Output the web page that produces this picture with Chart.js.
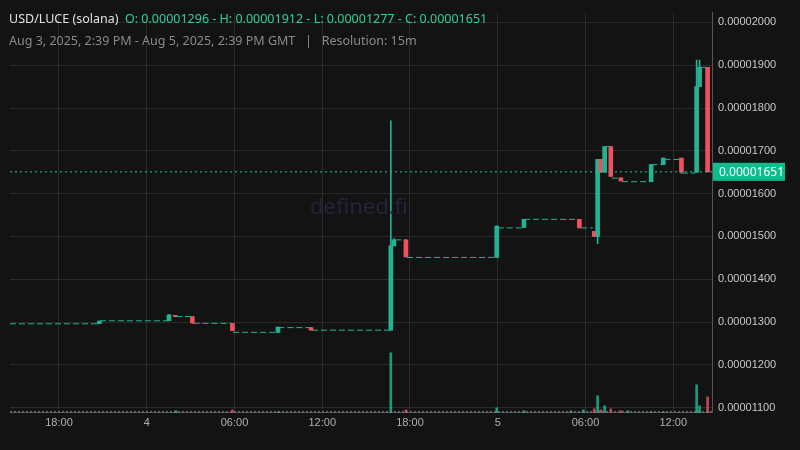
<!DOCTYPE html>
<html>
<head>
<meta charset="utf-8">
<script src="https://cdn.jsdelivr.net/npm/chart.js@4.4.1/dist/chart.umd.min.js"></script>
<style>
  body { margin: 0; background: #131313; font-family: "Noto Sans", sans-serif; }
  #wrap { position: relative; width: 800px; height: 450px; }
  #head1 { position: absolute; left: 9px; top: 10px; font-size: 12.5px; color: #e0e0e0; }
  #head1 span { color: #2fd0a0; }
  #head2 { position: absolute; left: 9px; top: 32px; font-size: 12.5px; color: #8a8a8a; }
  #mark { position: absolute; left: 310px; top: 190px; font-size: 22px; color: #24243a; }
</style>
</head>
<body>
<div id="wrap">
  <canvas id="c" width="800" height="450"></canvas>
  <div id="mark">defined.fi</div>
  <div id="head1">USD/LUCE (solana) &nbsp;<span>O: 0.00001296 - H: 0.00001912 - L: 0.00001277 - C: 0.00001651</span></div>
  <div id="head2">Aug 3, 2025, 2:39 PM - Aug 5, 2025, 2:39 PM GMT &nbsp; | &nbsp; Resolution: 15m</div>
</div>
<script>
// prices in units of 1e-8, time in hours from Aug 3 00:00
const candles = [
  [20.76,1296,1302,1296,1302],
  [25.52,1303,1318,1303,1317],
  [25.94,1316,1316,1312,1313],
  [27.12,1313,1313,1297,1298],
  [29.86,1297,1297,1280,1280],
  [32.97,1276,1288,1276,1288],
  [35.24,1287,1287,1281,1281],
  [40.69,1281,1770,1281,1478],
  [40.90,1478,1495,1478,1492],
  [41.72,1492,1492,1452,1452],
  [47.93,1451,1525,1451,1524],
  [49.79,1521,1540,1521,1540],
  [53.58,1540,1540,1520,1520],
  [54.60,1512,1512,1500,1500],
  [54.83,1500,1680,1483,1680],
  [55.05,1680,1680,1650,1650],
  [55.31,1650,1710,1650,1710],
  [55.73,1710,1710,1640,1640],
  [56.42,1637,1637,1630,1630],
  [58.49,1628,1668,1628,1668],
  [59.32,1668,1683,1668,1683],
  [60.56,1683,1683,1648,1650],
  [61.60,1650,1912,1650,1850],
  [61.80,1850,1912,1850,1895],
  [62.35,1895,1895,1651,1651]
];
const flatRuns = [
  [14.65,20.7,1296],[20.8,25.5,1303],[26.0,27.1,1313],[27.2,29.8,1297],
  [29.9,32.9,1276],[33.0,35.2,1287],[35.3,40.6,1281],[41.0,41.7,1492],
  [41.8,47.9,1451],[48.0,49.7,1520],[49.8,53.5,1540],[53.7,54.5,1520],
  [55.4,55.7,1710],[55.8,56.4,1636],[56.5,58.4,1628],[58.5,59.3,1668],
  [59.4,60.5,1680],[60.6,61.5,1648],[61.85,62.3,1895]
];
const volumes = [
  [26.0,2],[29.86,3],[33.0,1],[40.69,60],[41.72,3],[47.93,5],[49.8,2],
  [53.0,2],[53.86,3],[54.6,4],[54.83,17],[55.05,3],[55.31,7],[55.73,4],
  [56.42,2],[56.9,2],[58.49,1],[59.32,1],[61.6,28],[61.8,7],[62.35,16]
];
const lastPrice = 1651;
const tickNames = {18: '18:00', 24: '4', 30: '06:00', 36: '12:00', 42: '18:00', 48: '5', 54: '06:00', 60: '12:00'};

const UP = '#22b394', DOWN = '#f0505e';
const col = c => c[4] >= c[1] ? UP : DOWN;

const datasets = [];
flatRuns.forEach(r => datasets.push({
  type: 'line', data: [{x: r[0], y: r[2]}, {x: r[1], y: r[2]}],
  borderColor: UP, borderWidth: 1, borderDash: [6, 3], pointRadius: 0, yAxisID: 'y'
}));
datasets.push({
  type: 'bar', data: candles.map(c => ({x: c[0], y: [c[3], c[2]]})),
  backgroundColor: candles.map(col), barThickness: 1, grouped: false, yAxisID: 'y'
});
datasets.push({
  type: 'bar', data: candles.map(c => ({x: c[0], y: [c[1], c[4]]})),
  backgroundColor: candles.map(col), barThickness: 4, minBarLength: 1, grouped: false, yAxisID: 'y'
});
datasets.push({
  type: 'bar', data: volumes.map(v => ({x: v[0], y: v[1]})),
  backgroundColor: volumes.map(v => {
    const c = candles.find(k => Math.abs(k[0] - v[0]) < 0.05);
    return (c && c[4] < c[1]) ? 'rgba(240,80,94,0.8)' : 'rgba(34,200,160,0.75)';
  }),
  barThickness: 2, grouped: false, yAxisID: 'v'
});

const lastLine = {
  id: 'lastLine',
  afterDatasetsDraw(chart) {
    const {ctx, chartArea: a, scales} = chart;
    const y = scales.y.getPixelForValue(lastPrice);
    ctx.save();
    ctx.strokeStyle = '#22c79c'; ctx.lineWidth = 1; ctx.setLineDash([2, 3]);
    ctx.beginPath(); ctx.moveTo(a.left, y); ctx.lineTo(a.right, y); ctx.stroke();
    // volume baseline dots
    const vb = scales.v.getPixelForValue(0) - 1;
    ctx.strokeStyle = '#7a8a9a'; ctx.setLineDash([2, 2]);
    ctx.beginPath(); ctx.moveTo(a.left, vb); ctx.lineTo(a.right, vb); ctx.stroke();
    ctx.setLineDash([]);
    ctx.fillStyle = '#0dbd8b';
    ctx.fillRect(a.right + 1, y - 9, 72, 18);
    ctx.fillStyle = '#ffffff'; ctx.font = '12px "Noto Sans"';
    ctx.textBaseline = 'middle';
    ctx.fillText((lastPrice * 1e-8).toFixed(8), a.right + 7, y + 1);
    ctx.restore();
  }
};

new Chart(document.getElementById('c'), {
  data: {datasets},
  options: {
    responsive: false, animation: false,
    layout: {padding: {left: 10, top: 10, right: 0, bottom: 16}},
    plugins: {legend: {display: false}, tooltip: {enabled: false}},
    scales: {
      x: {
        type: 'linear', min: 14.65, max: 62.65, offset: false,
        afterBuildTicks: s => { s.ticks = Object.keys(tickNames).map(v => ({value: +v})); },
        ticks: {color: '#b0b0b0', font: {size: 11}, maxRotation: 0, callback: v => tickNames[v],
          padding: 4},
        grid: {color: '#2a2a2a', drawTicks: false, offset: false},
        border: {color: '#555'}
      },
      y: {
        position: 'right', min: 1088, max: 2023,
        afterBuildTicks: s => { const t = []; for (let v = 1100; v <= 2000; v += 100) t.push({value: v}); s.ticks = t; },
        ticks: {color: '#c8c8c8', font: {size: 11}, padding: 6, callback: v => (v * 1e-8).toFixed(8)},
        grid: {color: '#2a2a2a', drawTicks: false},
        border: {color: '#555'},
        afterFit: s => { s.width = 88; }
      },
      v: {display: false, min: 0, max: 400}
    }
  },
  plugins: [lastLine]
});
</script>
</body>
</html>
